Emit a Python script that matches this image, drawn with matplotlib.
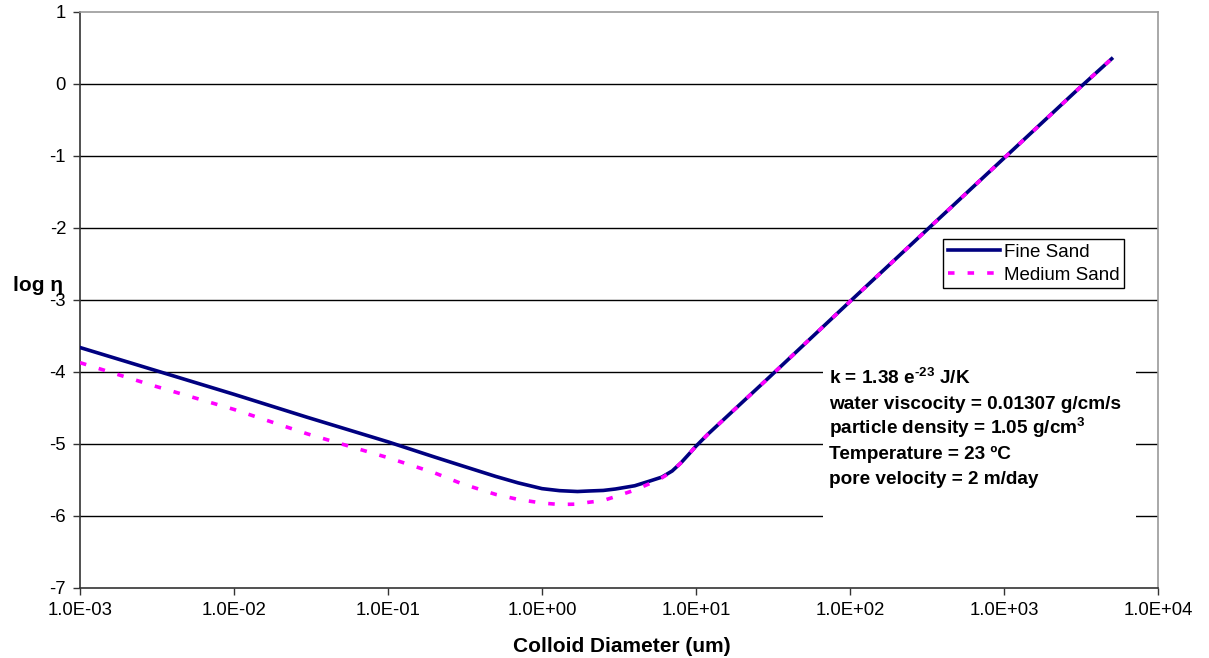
import matplotlib
matplotlib.use("Agg")
import matplotlib.pyplot as plt
from matplotlib.patches import Rectangle

plt.rcParams['font.family'] = ['Liberation Sans', 'DejaVu Sans']
plt.rcParams['mathtext.fontset'] = 'custom'
plt.rcParams['mathtext.rm'] = 'Liberation Sans'
plt.rcParams['mathtext.bf'] = 'Liberation Sans:bold'
plt.rcParams['lines.scale_dashes'] = False

# colloid diameter (um) and log eta
diameter = [0.001, 0.003, 0.01, 0.03, 0.1, 0.2, 0.3, 0.5, 0.7, 1, 1.3, 1.7, 2, 2.5, 3,
            4, 5, 6, 7, 8, 9, 10, 12, 30, 100, 300, 1000, 3000, 5000]
fine_sand = [-3.66, -3.97, -4.31, -4.63, -4.97, -5.18, -5.30, -5.45, -5.54, -5.62, -5.648,
             -5.66, -5.653, -5.645, -5.625, -5.58, -5.515, -5.46, -5.375, -5.26, -5.14,
             -5.03, -4.86, -4.07, -3.02, -2.07, -1.03, -0.08, 0.35]
medium_sand = [-3.87, -4.19, -4.52, -4.86, -5.19, -5.40, -5.55, -5.70, -5.77, -5.82, -5.84,
               -5.835, -5.81, -5.785, -5.73, -5.64, -5.55, -5.47, -5.38, -5.26, -5.14,
               -5.03, -4.86, -4.07, -3.02, -2.07, -1.03, -0.08, 0.35]

x_ticks = [1e-3, 1e-2, 1e-1, 1e0, 1e1, 1e2, 1e3, 1e4]
y_ticks = [-7, -6, -5, -4, -3, -2, -1, 0, 1]

notes = ["k = 1.38 e$^{\\mathbf{\u201023}}$ J/K",
         "water viscocity = 0.01307 g/cm/s",
         r"particle density = 1.05 g/cm$^{\mathbf{3}}$",
         "Temperature = 23 \u00baC",
         "pore velocity = 2 m/day"]

fig = plt.figure(figsize=(12.09, 6.58), dpi=100)
ax = fig.add_axes([80 / 1209, 1 - 588 / 658, 1078 / 1209, 576 / 658])

ax.plot(diameter, fine_sand, color='#000080', lw=2.6, label='Fine Sand', zorder=3,
        solid_joinstyle='round')
ax.plot(diameter, medium_sand, color='#FF00FF', lw=2.6, dashes=(4.7, 9.4),
        label='Medium Sand', zorder=3)

ax.set_xscale('log')
ax.set_xlim(1e-3, 1e4)
ax.set_ylim(-7, 1)
ax.set_xticks(x_ticks)
ax.set_xticklabels([f"{v:.1E}" for v in x_ticks])
ax.minorticks_off()
ax.set_yticks(y_ticks)
ax.set_yticklabels([str(v) for v in y_ticks])
ax.tick_params(axis='both', direction='out', length=5, width=1, labelsize=13.3,
               color='#333333', pad=5)

for v in y_ticks[1:-1]:
    ax.axhline(v, color='black', lw=1, zorder=0.5)

ax.spines['top'].set_color('#999999')
ax.spines['right'].set_color('#999999')
ax.spines['left'].set_color('#333333')
ax.spines['bottom'].set_color('#333333')
for s in ax.spines.values():
    s.set_linewidth(1.2)

ax.set_xlabel('Colloid Diameter (um)', fontsize=15, fontweight='bold')
ax.xaxis.set_label_coords(0.503, -0.102)
ax.xaxis.label.set_va('center')
ax.set_ylabel('log \u03b7', fontsize=15, fontweight='bold', rotation=0,
              ha='right', va='center')
ax.yaxis.set_label_coords(-0.016, 0.526)

# white box behind the parameter notes hides the gridlines
ax.add_patch(Rectangle((0.6892, 0.1094), 0.2904, 0.2778, transform=ax.transAxes,
                       facecolor='white', edgecolor='none', zorder=1))
note_y = [0.3542, 0.3116, 0.2682, 0.2248, 0.1814]
for txt, yy in zip(notes, note_y):
    ax.text(0.6948, yy, txt, transform=ax.transAxes, fontsize=13.7, fontweight='bold',
            va='baseline', ha='left', zorder=2)

leg = ax.legend(loc='upper left', bbox_to_anchor=(0.8006, 0.606), borderaxespad=0,
                fontsize=13.5, frameon=True, fancybox=False, framealpha=1,
                edgecolor='black', handlelength=2.8, handletextpad=0.2,
                borderpad=0.25, labelspacing=0.3)
leg.get_frame().set_linewidth(1)

fig.savefig('out.png', dpi=100)
